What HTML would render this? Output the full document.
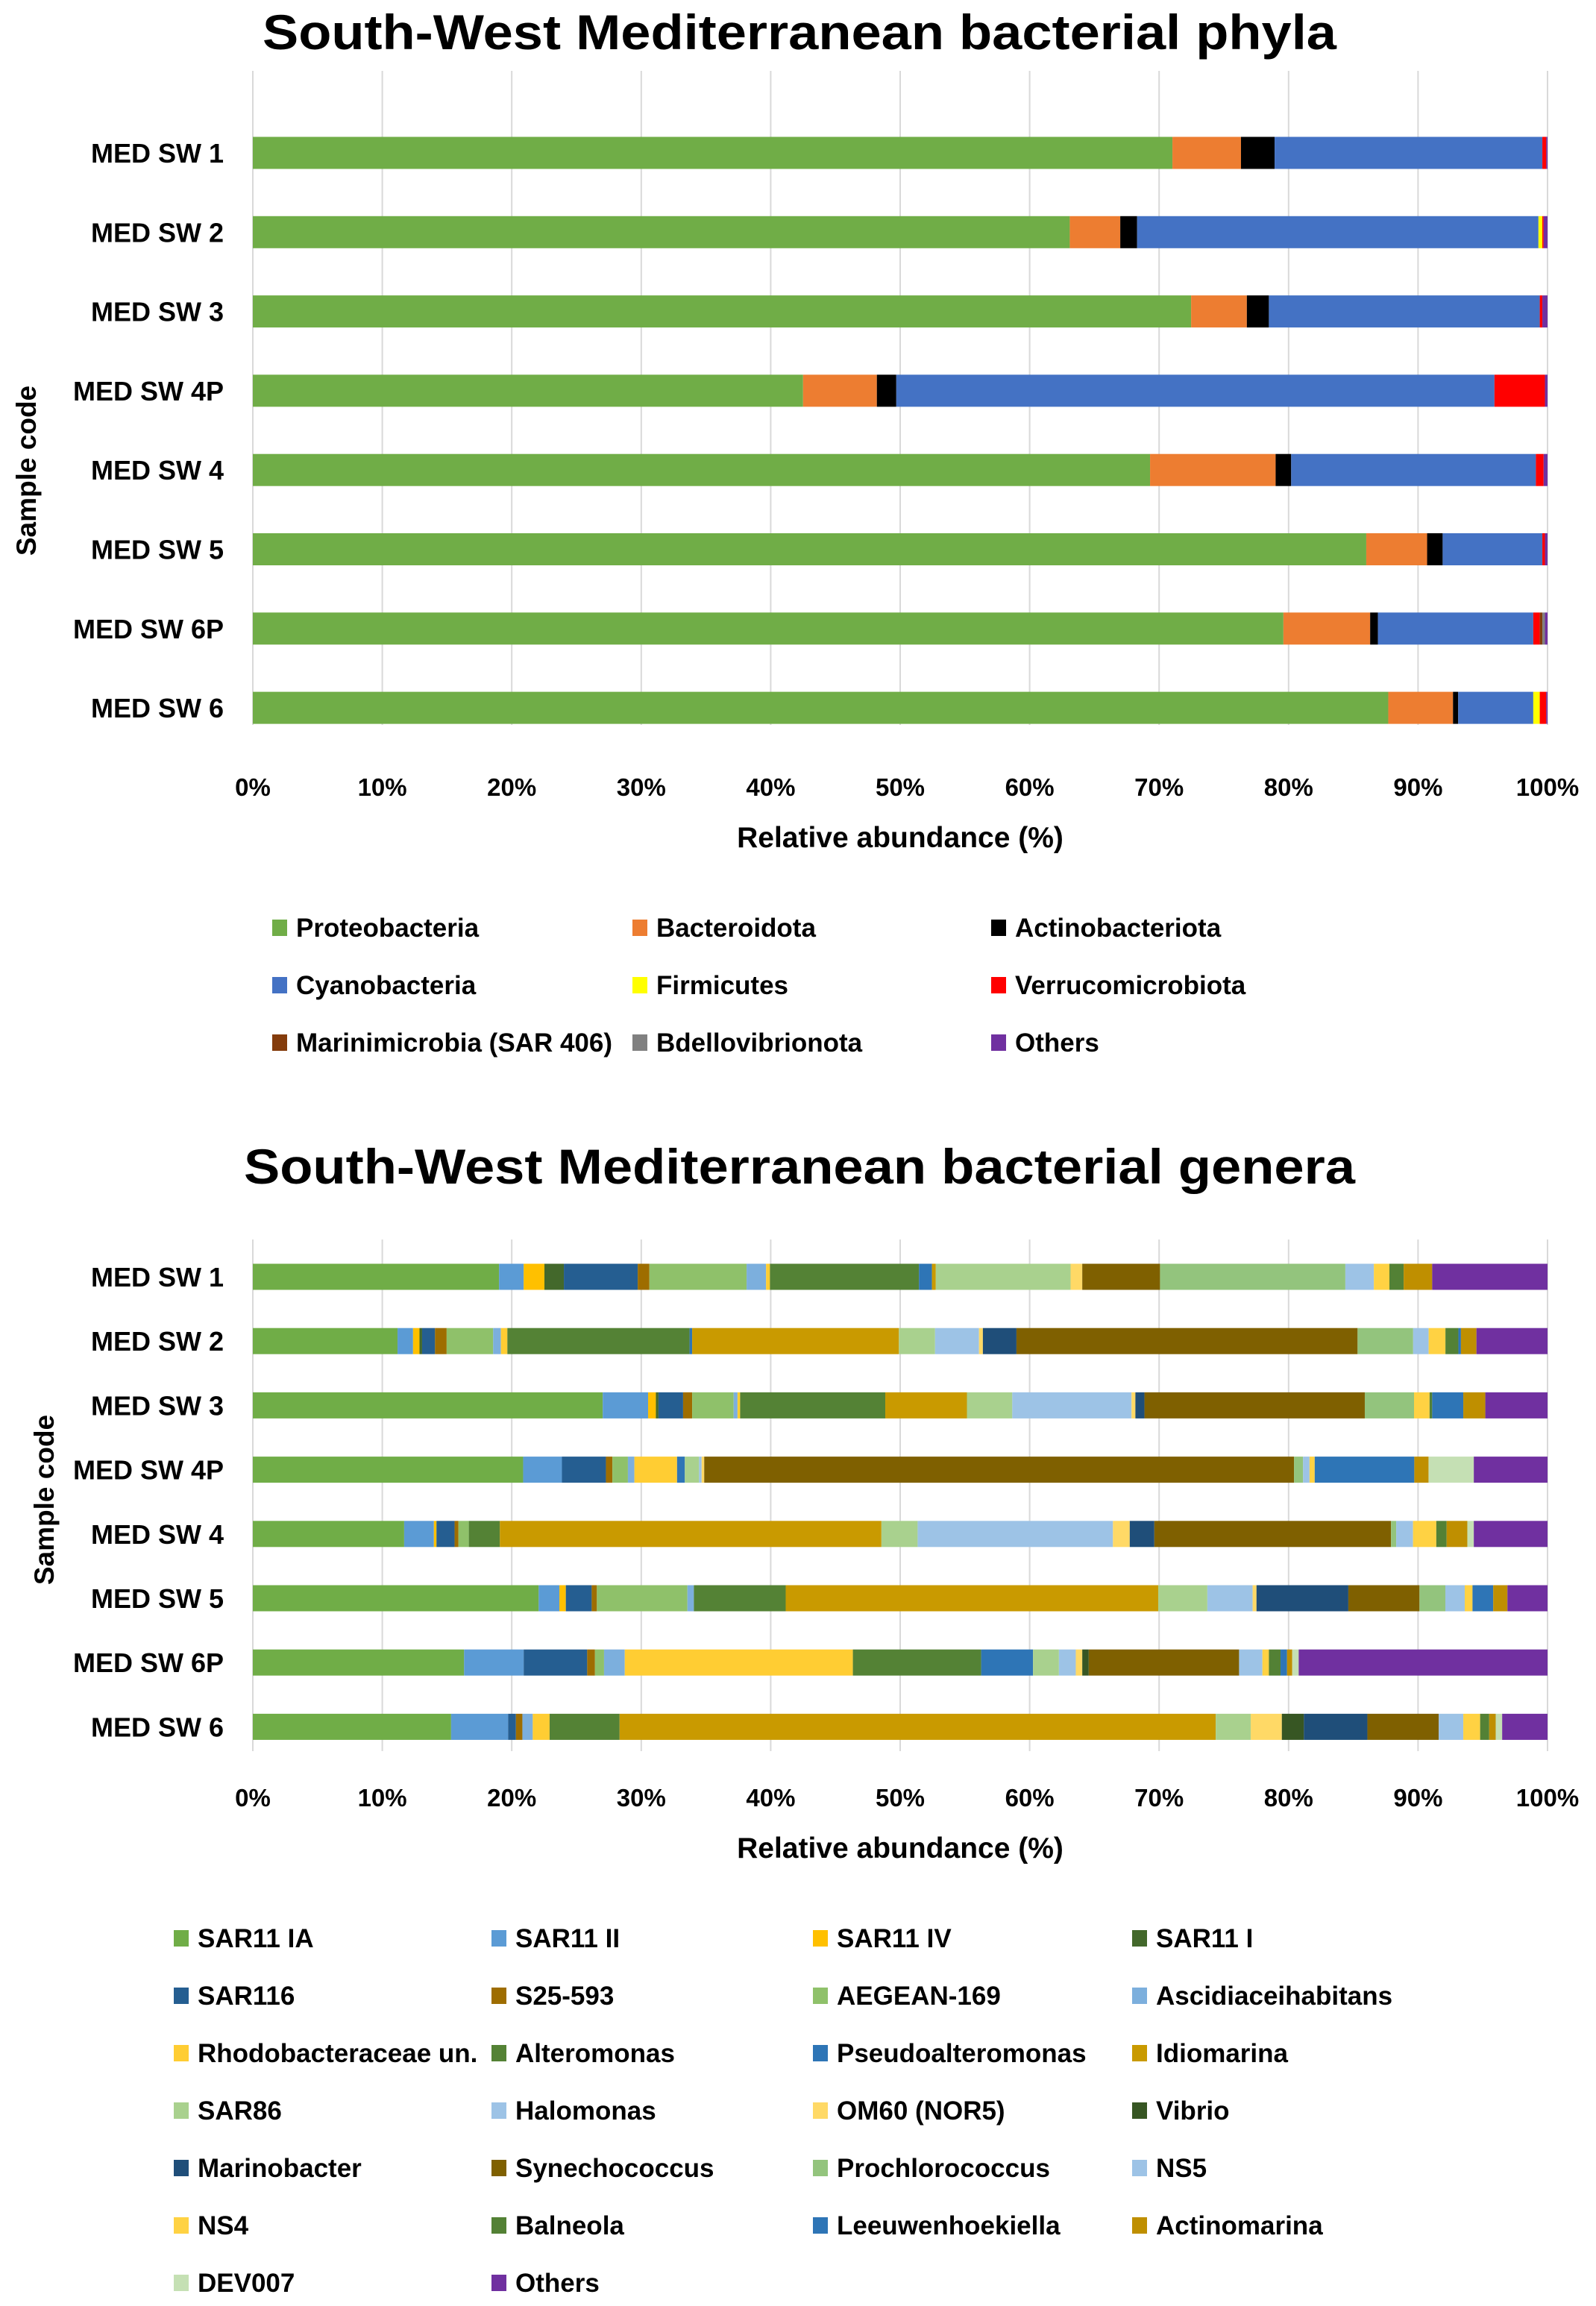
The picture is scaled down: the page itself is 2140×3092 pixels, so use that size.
<!DOCTYPE html>
<html><head><meta charset="utf-8"><style>
html,body{margin:0;padding:0;background:#fff;}
svg{display:block;font-family:"Liberation Sans",sans-serif;}
</style></head><body>
<svg id="chart" width="2140" height="3092" viewBox="0 0 2140 3092" xmlns="http://www.w3.org/2000/svg"></svg>
<script>
const samples = ["MED SW 1","MED SW 2","MED SW 3","MED SW 4P","MED SW 4","MED SW 5","MED SW 6P","MED SW 6"];
const ticks = ["0%","10%","20%","30%","40%","50%","60%","70%","80%","90%","100%"];
const phylaNames = ["Proteobacteria","Bacteroidota","Actinobacteriota","Cyanobacteria","Firmicutes","Verrucomicrobiota","Marinimicrobia (SAR 406)","Bdellovibrionota","Others"];
const phylaColors = ["#70ad47","#ed7d31","#000000","#4472c4","#ffff00","#ff0000","#843c0c","#808080","#7030a0"];
// rows = samples, columns = phyla
const phylaValues = [
 [71.1,5.3,2.6,20.7,0,0.3,0,0,0.1],
 [63.1,3.9,1.3,31.0,0.3,0.1,0,0,0.3],
 [72.4,4.3,1.7,20.9,0,0.2,0,0,0.4],
 [42.5,5.7,1.5,46.2,0,3.9,0,0,0.2],
 [69.3,9.7,1.2,18.9,0,0.6,0,0,0.3],
 [86.0,4.7,1.2,7.7,0,0.2,0,0,0.2],
 [79.6,6.7,0.6,12.0,0,0.5,0.2,0.2,0.2],
 [87.7,5.0,0.4,5.8,0.5,0.5,0,0,0.1]
];
const generaNames = ["SAR11 IA","SAR11 II","SAR11 IV","SAR11 I","SAR116","S25-593","AEGEAN-169","Ascidiaceihabitans","Rhodobacteraceae un.","Alteromonas","Pseudoalteromonas","Idiomarina","SAR86","Halomonas","OM60 (NOR5)","Vibrio","Marinobacter","Synechococcus","Prochlorococcus","NS5","NS4","Balneola","Leeuwenhoekiella","Actinomarina","DEV007","Others"];
const generaColors = ["#70ad47","#5b9bd5","#ffc000","#43682b","#255e91","#9e6d00","#8fc16a","#7cafdd","#ffcd33","#548235","#2e75b6","#c99a00","#a9d18e","#9dc3e6","#ffd966","#375623","#1f4e79","#7f6000","#93c47d","#9dc3e6","#ffd243","#538135","#2e75b6","#bf8f00","#c5e0b4","#7030a0"];
const generaValues = [
 [19.0,1.9,1.6,1.5,5.7,0.9,7.5,1.5,0.3,11.5,1.0,0.3,10.4,0,0.9,0,0,6.0,14.3,2.2,1.2,1.1,0,2.2,0,8.9],
 [11.2,1.2,0.5,0.2,1.0,0.9,3.6,0.6,0.5,14.1,0.2,16.0,2.8,3.4,0.3,0,2.6,26.4,4.3,1.2,1.3,1.0,0.2,1.2,0,5.5],
 [27.0,3.5,0.6,0.2,1.9,0.7,3.2,0.3,0.2,11.2,0,6.3,3.5,9.2,0.3,0,0.7,17.0,3.8,0,1.2,0.2,2.4,1.7,0,4.8],
 [20.9,3.0,0,0,3.4,0.5,1.2,0.5,3.3,0,0.6,0,1.1,0.2,0.2,0,0,45.6,0.7,0.5,0.4,0,7.7,1.1,3.5,5.7],
 [11.7,2.3,0.2,0,1.4,0.3,0.8,0,0,2.4,0,29.5,2.8,15.1,1.3,0,1.9,18.3,0.4,1.3,1.8,0.8,0,1.6,0.5,5.7],
 [22.1,1.6,0.5,0,2.0,0.4,7.0,0.5,0,7.1,0,28.8,3.8,3.5,0.3,0,7.1,5.5,2.0,1.5,0.6,0,1.6,1.1,0,3.1],
 [16.3,4.6,0,0,4.9,0.6,0.7,1.6,17.6,9.9,4.0,0,2.0,1.3,0.5,0.5,0,11.6,0,1.8,0.5,0.9,0.5,0.4,0.5,19.2],
 [15.3,4.4,0,0,0.6,0.5,0,0.8,1.3,5.4,0,46.0,2.7,0,2.4,1.7,4.9,5.5,0,1.9,1.3,0.7,0,0.5,0.5,3.5]
];

const NS="http://www.w3.org/2000/svg";
const svg=document.getElementById('chart');
function mk(tag,attrs,parent){const e=document.createElementNS(NS,tag);for(const k in attrs)e.setAttribute(k,attrs[k]);(parent||svg).appendChild(e);return e;}
const X0=339,X1=2075;
function xScale(p){return X0+(X1-X0)*p/100;}

function drawChart(cfg){
  const g=mk('g',{});
  
  
  const t=mk('text',{x:1072,y:cfg.titleY,'text-anchor':'middle','font-size':66,'font-weight':'bold',textLength:cfg.titleW,lengthAdjust:'spacingAndGlyphs'},g);
  t.textContent=cfg.title;
  
  
  ticks.forEach((lab,i)=>{
    const x=xScale(i*10);
    const l=mk('line',{x1:x,x2:x,y1:cfg.gridTop,y2:cfg.gridBot,stroke:'#d9d9d9','stroke-width':2},g);
    
    
    const tt=mk('text',{x:x,y:cfg.tickY,'text-anchor':'middle','font-size':33,'font-weight':'bold'},g);
    tt.textContent=lab;
    
    
  });
  samples.forEach((s,r)=>{
    const cy=cfg.rowY0+r*cfg.rowStep;
    const lt=mk('text',{x:300,y:cy+13,'text-anchor':'end','font-size':36,'font-weight':'bold'},g);
    lt.textContent=s;
    
    
    const vals=cfg.values[r];
    const tot=vals.reduce((a,b)=>a+b,0);
    let cum=0;
    vals.forEach((v,k)=>{
      if(v<=0)return;
      const xa=xScale(cum/tot*100);cum+=v;const xb=xScale(cum/tot*100);
      const rc=mk('rect',{x:xa,y:cy-cfg.barH/2,width:Math.max(0,xb-xa),height:cfg.barH,fill:cfg.colors[k]},g);
      
      
    });
  });
  const at=mk('text',{x:1207,y:cfg.axisY,'text-anchor':'middle','font-size':39,'font-weight':'bold'},g);
  at.textContent='Relative abundance (%)';
  
  
  const yt=mk('text',{x:0,y:0,'text-anchor':'middle','font-size':37,'font-weight':'bold',transform:`translate(${cfg.yTitleX},${cfg.yTitleY}) rotate(-90)`},g);
  yt.textContent='Sample code';
  
  
  cfg.names.forEach((n,k)=>{
    const col=k%cfg.cols,row=Math.floor(k/cfg.cols);
    const lx=cfg.legX[col],ly=cfg.legY0+row*cfg.legStep;
    const lg=mk('g',{},g);
    
    
    mk('rect',{x:lx,y:ly-11,width:20,height:22,fill:cfg.colors[k]},lg);
    const tx=mk('text',{x:lx+32,y:ly+12,'font-size':35,'font-weight':'bold'},lg);
    tx.textContent=n;
  });
}
drawChart({name:'phyla-chart',title:'South-West Mediterranean bacterial phyla',titleY:66,titleW:1440,
  gridTop:95,gridBot:972,tickY:1067,axisY:1136,rowY0:205,rowStep:106.3,barH:43,yTitleX:48,yTitleY:631,
  values:phylaValues,colors:phylaColors,names:phylaNames,cols:3,legX:[365,848,1329],legY0:1244,legStep:77});
drawChart({name:'genera-chart',title:'South-West Mediterranean bacterial genera',titleY:1587,titleW:1490,
  gridTop:1662,gridBot:2348,tickY:2422,axisY:2491,rowY0:1712,rowStep:86.2,barH:35,yTitleX:72,yTitleY:2011,
  values:generaValues,colors:generaColors,names:generaNames,cols:4,legX:[233,659,1090,1518],legY0:2599,legStep:77});
</script>
</body></html>
